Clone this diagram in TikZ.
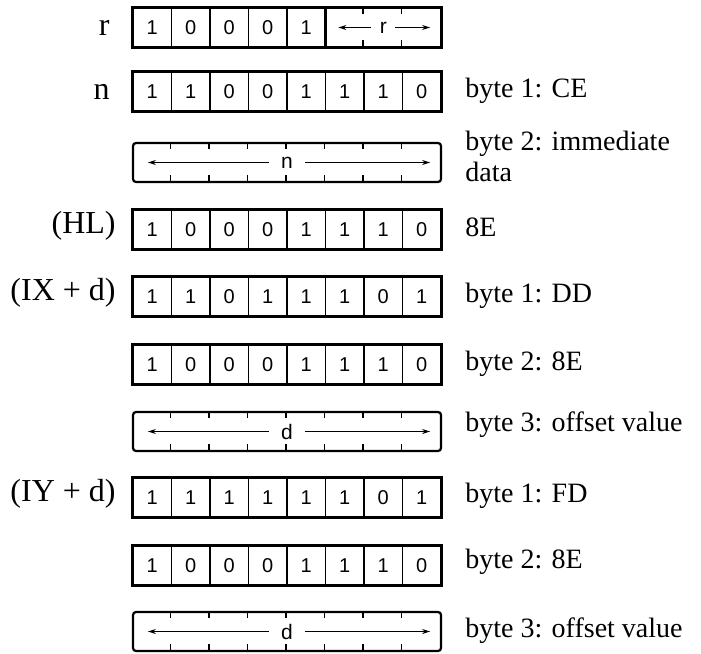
\documentclass[tikz,border=0pt]{standalone}
\usepackage{fontspec}
\setmainfont{Liberation Serif}
\newfontfamily\bitfont{Liberation Sans}
\usetikzlibrary{arrows.meta, calc}

% eight bit cells of one byte, #2 = top edge
\newcommand{\bitrow}[3]{%
  \foreach \b [count=\i] in {#3}
    \node[bit] (#1-\i) at ({133+(\i-0.5)*38.5},{#2+19.5}) {\b};
  \draw[frame] (#1-1.north west) rectangle (#1-8.south east);
}
% a whole byte used as one field (n, d)
\newcommand{\fieldrow}[3]{%
  \node[field] (#1) at (287,{#2+19.5}) {#3};
  \foreach \k in {1,...,7}{
    \draw[tick] ($(#1.north west)+(\k*38.5,0)$) -- ++(0,7);
    \draw[tick] ($(#1.south west)+(\k*38.5,0)$) -- ++(0,-8);
  }
  \draw[arr] ([xshift=-9pt]#1.center) -- ([xshift=8pt]#1.west);
  \draw[arr] ([xshift=9pt]#1.center) -- ([xshift=-6pt]#1.east);
}

\begin{document}
\begin{tikzpicture}[
  x=0.5pt, y=-0.5pt,
  bit/.style={draw,line width=0.8pt,minimum width=19.25pt,minimum height=19.5pt,
              inner sep=0pt,font=\bitfont\fontsize{10}{11}\selectfont},
  field/.style={draw,line width=1.1pt,rounded corners=1.5pt,minimum width=154pt,
                minimum height=19.5pt,inner sep=0pt,font=\bitfont\fontsize{10.5}{11}\selectfont},
  frame/.style={line width=1.1pt},
  tick/.style={line width=0.8pt},
  arr/.style={-{Stealth[length=4pt,width=2.5pt]},line width=0.6pt},
  lbl/.style={anchor=base east,inner sep=0pt,font=\fontsize{16}{18}\selectfont},
  txt/.style={anchor=base west,inner sep=0pt,font=\fontsize{14}{15.5}\selectfont}
]
\useasboundingbox (0,0) rectangle (701,653);

% r
\node[lbl] (lr) at (110,35) {r};
\foreach \b [count=\i] in {1,0,0,0,1}
  \node[bit] (rr-\i) at ({133+(\i-0.5)*38.5},27.5) {\b};
\node[field,minimum width=57.75pt,rounded corners=0pt] (rfld) at ({133+6.5*38.5},27.5) {r};
\draw[frame] (rr-1.north west) rectangle (rfld.south east);
\foreach \k in {1,2}{
  \draw[tick] ($(rfld.north west)+(\k*38.5,0)$) -- ++(0,7);
  \draw[tick] ($(rfld.south west)+(\k*38.5,0)$) -- ++(0,-8);
}
\draw[arr] ([xshift=-6pt]rfld.center) -- ([xshift=7pt]rfld.west);
\draw[arr] ([xshift=6pt]rfld.center) -- ([xshift=-6pt]rfld.east);

% n
\bitrow{ce}{72}{1,1,0,0,1,1,1,0}
\node[lbl] (ln) at (110,99) {n};
\node[txt] (tce) at (465,97) {byte 1: CE};
\fieldrow{nfld}{143}{n}
\node[txt,anchor=west,align=left] (tn) at (465,156) {byte 2: immediate\\data};

% (HL)
\bitrow{hl}{210}{1,0,0,0,1,1,1,0}
\node[lbl] (lhl) at (116,233) {(HL)};
\node[txt] (thl) at (465,236) {8E};

% (IX + d)
\bitrow{dd}{277}{1,1,0,1,1,1,0,1}
\node[lbl] (lix) at (116,300) {(IX + d)};
\node[txt] (tdd) at (465,302) {byte 1: DD};
\bitrow{ixe}{345}{1,0,0,0,1,1,1,0}
\node[txt] (tixe) at (465,370) {byte 2: 8E};
\fieldrow{ixd}{412}{d}
\node[txt] (tixd) at (465,431) {byte 3: offset value};

% (IY + d)
\bitrow{fd}{478}{1,1,1,1,1,1,0,1}
\node[lbl] (liy) at (116,501) {(IY + d)};
\node[txt] (tfd) at (465,502) {byte 1: FD};
\bitrow{iye}{546}{1,0,0,0,1,1,1,0}
\node[txt] (tiye) at (465,568) {byte 2: 8E};
\fieldrow{iyd}{612}{d}
\node[txt] (tiyd) at (465,637) {byte 3: offset value};
\end{tikzpicture}
\end{document}
